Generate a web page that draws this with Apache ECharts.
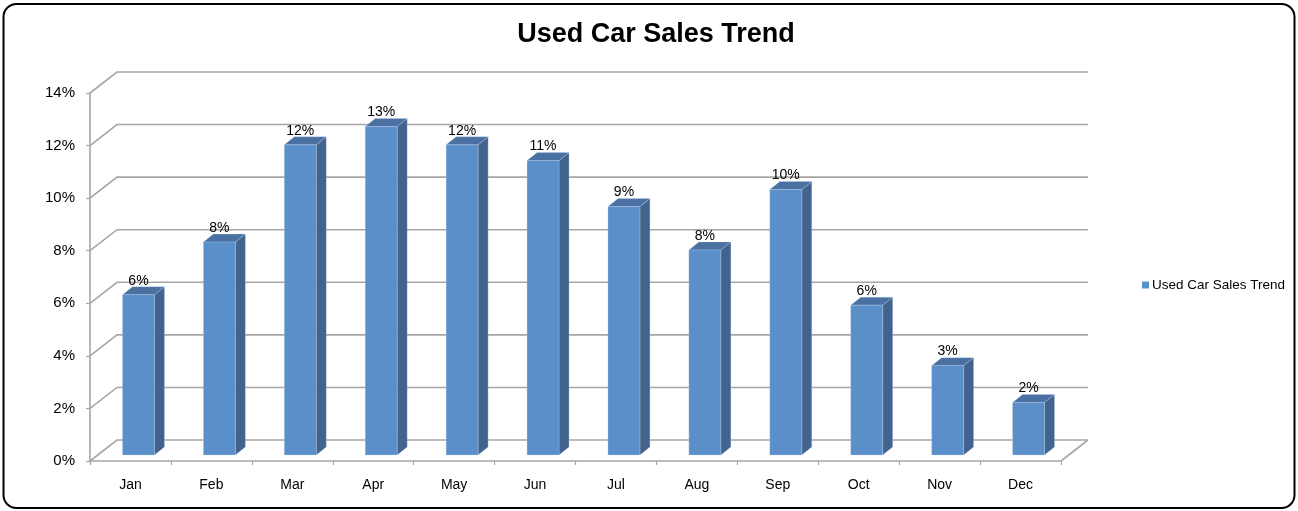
<!DOCTYPE html>
<html>
<head>
<meta charset="utf-8">
<script src="https://cdn.jsdelivr.net/npm/echarts@6/dist/echarts.min.js"></script>
<style>
html,body{margin:0;padding:0;background:#fff;}
#chart{width:1298px;height:511px;}
</style>
</head>
<body>
<div id="chart"></div>
<script>
const categories = ['Jan','Feb','Mar','Apr','May','Jun','Jul','Aug','Sep','Oct','Nov','Dec'];
const salesTrend = [6.1, 8.1, 11.8, 12.5, 11.8, 11.2, 9.45, 7.8, 10.1, 5.7, 3.4, 2.0];
const yTicks = [0, 2, 4, 6, 8, 10, 12, 14];
const seriesName = 'Used Car Sales Trend';

const FONT = '"Liberation Sans", Arial, sans-serif';
const WALL_DX = 27, WALL_DY = -21;   // back-wall depth
const BAR_OX = 8, BAR_OY = -6;       // bar front plane offset
const BAR_DX = 10, BAR_DY = -8;      // bar depth
const GRID_COLOR = '#a6a6a6';

const chart = echarts.init(document.getElementById('chart'), null, {renderer: 'canvas'});

function renderWall(params, api) {
  const v = api.value(1);
  const cs = params.coordSys;
  const y = api.coord([0, v])[1];
  const x0 = cs.x, x1 = cs.x + cs.width;
  const children = [{
    type: 'polyline',
    shape: {points: [[x0, y], [x0 + WALL_DX, y + WALL_DY], [x1 + WALL_DX, y + WALL_DY]]},
    style: {stroke: GRID_COLOR, lineWidth: 1.6, fill: null}
  }];
  if (v === 0) {
    children.push({
      type: 'line',
      shape: {x1: x1, y1: y, x2: x1 + WALL_DX, y2: y + WALL_DY},
      style: {stroke: GRID_COLOR, lineWidth: 1.6}
    });
  }
  return {type: 'group', children: children};
}

function renderBar(params, api) {
  const idx = api.value(0), v = api.value(1);
  const base = api.coord([idx, 0]);
  const top = api.coord([idx, v]);
  const bw = api.size([1, 0])[0];
  const w = bw * 0.395;
  const cx = base[0] + BAR_OX;
  const L = cx - w / 2, R = cx + w / 2;
  const yb = base[1] + BAR_OY, yt = top[1] + BAR_OY;
  const edge = 'rgba(190,210,235,0.6)';
  return {
    type: 'group',
    children: [
      {type: 'polygon', shape: {points: [[R, yb], [R + BAR_DX, yb + BAR_DY], [R + BAR_DX, yt + BAR_DY], [R, yt]]},
        style: {fill: '#41638d', stroke: edge, lineWidth: 0.5}},
      {type: 'polygon', shape: {points: [[L, yt], [L + BAR_DX, yt + BAR_DY], [R + BAR_DX, yt + BAR_DY], [R, yt]]},
        style: {fill: '#4a71a2', stroke: edge, lineWidth: 0.5}},
      {type: 'rect', shape: {x: L, y: yt, width: w, height: yb - yt},
        style: {fill: '#5b8fc9', stroke: edge, lineWidth: 0.5}},
      {type: 'text', x: cx, y: yt - 14,
        style: {text: Math.round(v) + '%', fill: '#000', font: '14px ' + FONT, align: 'center', verticalAlign: 'middle'}}
    ]
  };
}

const option = {
  animation: false,
  backgroundColor: '#ffffff',
  title: {
    text: 'Used Car Sales Trend',
    left: 651, top: 16, textAlign: 'center',
    textStyle: {fontFamily: FONT, fontSize: 27, fontWeight: 'bold', color: '#000'}
  },
  legend: {
    data: [seriesName],
    left: 1137, top: 273,
    orient: 'vertical',
    icon: 'rect', itemWidth: 7, itemHeight: 7, itemGap: 4,
    textStyle: {fontFamily: FONT, fontSize: 13.5, color: '#000', padding: [0, 0, 0, -2]}
  },
  grid: {left: 90, right: 237, top: 93, bottom: 50, containLabel: false},
  xAxis: {
    type: 'category',
    data: categories,
    boundaryGap: true,
    axisLine: {show: true, lineStyle: {color: GRID_COLOR, width: 1.6}},
    axisTick: {show: true, alignWithLabel: false, length: 4, lineStyle: {color: GRID_COLOR, width: 1.2}},
    axisLabel: {fontFamily: FONT, fontSize: 14, color: '#000', margin: 17},
    splitLine: {show: false}
  },
  yAxis: {
    type: 'value',
    min: 0, max: 14, interval: 2,
    axisLine: {show: true, lineStyle: {color: GRID_COLOR, width: 1.6}},
    axisTick: {show: true, length: 4, lineStyle: {color: GRID_COLOR, width: 1.2}},
    axisLabel: {fontFamily: FONT, fontSize: 15, color: '#000', margin: 15, formatter: '{value}%'},
    splitLine: {show: false}
  },
  graphic: [{
    type: 'rect', z: 100,
    shape: {x: 3.5, y: 4, width: 1291, height: 504, r: 13},
    style: {fill: null, stroke: '#000', lineWidth: 2}
  }],
  series: [
    {
      name: 'wall',
      type: 'custom',
      z: 1,
      silent: true,
      renderItem: renderWall,
      data: yTicks.map(v => [0, v]),
      encode: {x: 0, y: 1}
    },
    {
      name: seriesName,
      type: 'custom',
      z: 5,
      itemStyle: {color: '#5b8fc9'},
      renderItem: renderBar,
      data: salesTrend.map((v, i) => [i, v]),
      encode: {x: 0, y: 1}
    }
  ]
};
chart.setOption(option);
</script>
</body>
</html>
